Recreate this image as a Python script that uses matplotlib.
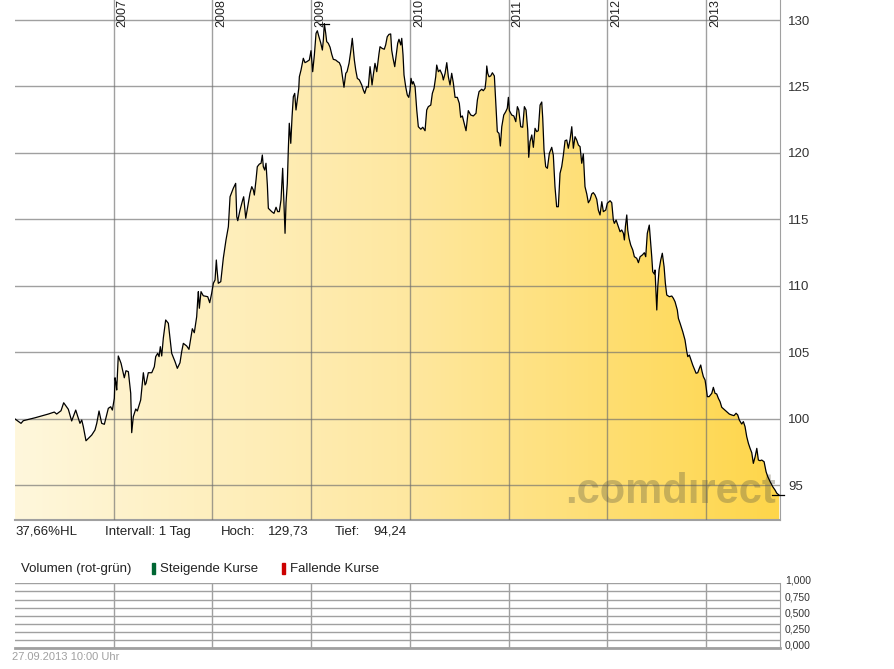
import matplotlib
matplotlib.use("Agg")
import matplotlib.pyplot as plt
import numpy as np
from matplotlib.patches import Polygon, Rectangle
from matplotlib.colors import LinearSegmentedColormap

plt.rcParams['font.family'] = ['Liberation Sans', 'DejaVu Sans']

# price series (decimal year, price)
t = [2006.000, 2006.061, 2006.084, 2006.203, 2006.337, 2006.398, 2006.422, 2006.466, 2006.493, 2006.540,
     2006.574, 2006.615, 2006.658, 2006.676, 2006.692, 2006.719, 2006.777, 2006.810, 2006.828, 2006.851,
     2006.878, 2006.905, 2006.945, 2006.969, 2006.986, 2007.006, 2007.013, 2007.023, 2007.030, 2007.046,
     2007.074, 2007.107, 2007.124, 2007.148, 2007.172, 2007.182, 2007.198, 2007.223, 2007.239, 2007.273,
     2007.300, 2007.317, 2007.327, 2007.350, 2007.385, 2007.411, 2007.425, 2007.445, 2007.459, 2007.472,
     2007.486, 2007.502, 2007.526, 2007.553, 2007.587, 2007.621, 2007.644, 2007.671, 2007.688, 2007.705,
     2007.739, 2007.762, 2007.783, 2007.796, 2007.816, 2007.840, 2007.851, 2007.857, 2007.867, 2007.884,
     2007.907, 2007.952, 2007.972, 2007.992, 2008.009, 2008.026, 2008.039, 2008.046, 2008.059, 2008.084,
     2008.110, 2008.137, 2008.161, 2008.178, 2008.211, 2008.235, 2008.246, 2008.256, 2008.279, 2008.306,
     2008.316, 2008.337, 2008.363, 2008.380, 2008.398, 2008.414, 2008.424, 2008.441, 2008.454, 2008.475,
     2008.492, 2008.505, 2008.515, 2008.529, 2008.542, 2008.556, 2008.566, 2008.600, 2008.623, 2008.644,
     2008.661, 2008.677, 2008.694, 2008.711, 2008.725, 2008.735, 2008.745, 2008.758, 2008.768, 2008.778,
     2008.793, 2008.806, 2008.819, 2008.833, 2008.846, 2008.859, 2008.874, 2008.880, 2008.897, 2008.920,
     2008.937, 2008.955, 2008.981, 2008.998, 2009.015, 2009.032, 2009.049, 2009.062, 2009.076, 2009.096,
     2009.113, 2009.123, 2009.133, 2009.147, 2009.157, 2009.173, 2009.191, 2009.208, 2009.224, 2009.248,
     2009.269, 2009.285, 2009.302, 2009.319, 2009.332, 2009.350, 2009.363, 2009.383, 2009.400, 2009.416,
     2009.437, 2009.451, 2009.467, 2009.488, 2009.512, 2009.528, 2009.542, 2009.562, 2009.578, 2009.596,
     2009.606, 2009.616, 2009.629, 2009.646, 2009.664, 2009.687, 2009.697, 2009.717, 2009.740, 2009.754,
     2009.770, 2009.788, 2009.805, 2009.815, 2009.829, 2009.846, 2009.859, 2009.876, 2009.889, 2009.907,
     2009.917, 2009.930, 2009.940, 2009.957, 2009.973, 2009.988, 2010.001, 2010.011, 2010.024, 2010.034,
     2010.052,
     2010.069, 2010.085, 2010.110, 2010.130, 2010.153, 2010.170, 2010.186, 2010.211, 2010.227, 2010.244,
     2010.261, 2010.271, 2010.288, 2010.305, 2010.328, 2010.338, 2010.356, 2010.373, 2010.389, 2010.406,
     2010.423, 2010.440, 2010.457, 2010.480, 2010.500, 2010.514, 2010.531, 2010.548, 2010.568, 2010.591,
     2010.616, 2010.642, 2010.669, 2010.683, 2010.700, 2010.727, 2010.743, 2010.761, 2010.771, 2010.778,
     2010.788, 2010.801, 2010.818, 2010.835, 2010.855, 2010.872, 2010.885, 2010.902, 2010.916, 2010.930,
     2010.950, 2010.970, 2010.986, 2010.997, 2011.007, 2011.031, 2011.052, 2011.072, 2011.088, 2011.102,
     2011.122, 2011.142, 2011.159, 2011.176, 2011.193, 2011.203, 2011.216, 2011.234, 2011.250, 2011.267,
     2011.284, 2011.300, 2011.318, 2011.335, 2011.345, 2011.358, 2011.375, 2011.392, 2011.412, 2011.436,
     2011.452, 2011.469, 2011.486, 2011.503, 2011.520, 2011.537, 2011.554, 2011.571, 2011.588, 2011.604,
     2011.621, 2011.639, 2011.655, 2011.672, 2011.689, 2011.706, 2011.723, 2011.740, 2011.756, 2011.773,
     2011.791, 2011.807, 2011.824, 2011.841, 2011.857, 2011.875, 2011.892, 2011.908, 2011.925, 2011.943,
     2011.959, 2011.983, 2011.999, 2012.027, 2012.044, 2012.060,
     2012.070, 2012.088, 2012.111, 2012.128, 2012.145, 2012.162, 2012.172, 2012.182, 2012.196, 2012.206,
     2012.219, 2012.236, 2012.257, 2012.273, 2012.297, 2012.314, 2012.331, 2012.354, 2012.374, 2012.388,
     2012.404, 2012.424, 2012.439, 2012.449, 2012.459, 2012.475, 2012.482, 2012.493, 2012.500, 2012.510,
     2012.523, 2012.540, 2012.556, 2012.574, 2012.587, 2012.601, 2012.627, 2012.652, 2012.668, 2012.685,
     2012.708, 2012.719, 2012.736, 2012.763, 2012.786, 2012.804, 2012.814, 2012.830, 2012.847, 2012.864,
     2012.881, 2012.898, 2012.915, 2012.931, 2012.945, 2012.959, 2012.972, 2012.989, 2012.999, 2013.012,
     2013.030, 2013.057, 2013.073, 2013.090, 2013.107, 2013.124, 2013.141, 2013.158, 2013.181, 2013.209,
     2013.235, 2013.259, 2013.282, 2013.303, 2013.320, 2013.336, 2013.360, 2013.377, 2013.394, 2013.411,
     2013.428, 2013.445, 2013.462, 2013.478, 2013.496, 2013.513, 2013.529, 2013.546, 2013.563, 2013.587,
     2013.607, 2013.624, 2013.648, 2013.675, 2013.698, 2013.715, 2013.731, 2013.740]

p = [99.98, 99.65, 99.85, 100.07, 100.35, 100.50, 100.35, 100.60, 101.20, 100.71,
     99.83, 100.65, 99.65, 99.90, 99.40, 98.34, 98.77, 99.15, 99.65, 100.58,
     99.65, 99.58, 100.78, 100.90, 100.65, 101.53, 103.08, 102.66, 102.16, 104.72,
     104.17, 103.08, 103.61, 103.54, 101.91, 98.95, 100.15, 100.73, 100.58, 101.41,
     103.46, 102.54, 102.66, 103.46, 103.46, 103.91, 104.67, 104.92, 104.67, 105.42,
     104.72, 106.05, 107.43, 107.18, 104.92, 104.29, 103.79, 104.21, 105.04, 105.67,
     105.47, 105.22, 106.17, 106.77, 106.47, 107.67, 108.98, 109.56, 108.31, 109.56,
     109.25, 109.18, 108.73, 109.44, 110.19, 110.44, 111.94, 111.24, 110.19, 110.31,
     112.09, 113.45, 114.45, 116.70, 117.34, 117.71, 115.20, 114.90, 115.70, 116.46,
     116.70, 115.08, 116.21, 116.96, 117.46, 117.21, 116.83, 117.96, 118.96, 119.16,
     119.22, 119.84, 118.96, 118.71, 119.22, 117.58, 115.83, 115.58, 115.45, 115.91,
     115.58, 115.58, 116.46, 118.84, 115.95, 113.95, 116.25, 117.71, 120.22, 122.23,
     120.72, 122.72, 124.23, 124.48, 123.23, 123.98, 124.86, 125.73, 126.24, 127.12,
     126.79, 126.86, 126.99, 127.69, 126.11, 127.37, 129.00, 129.19, 128.80, 128.29,
     127.74, 128.50, 129.73, 129.00, 128.37, 128.25, 127.95, 127.42, 127.04, 126.99,
     126.86, 126.79, 126.49, 125.61, 124.94, 125.99, 126.11, 126.74, 127.61, 128.62,
     126.99, 126.24, 125.61, 125.49, 125.11, 124.73, 124.48, 124.98, 124.94, 126.49,
     125.86, 125.11, 125.86, 126.74, 126.11, 127.49, 127.99, 127.87, 127.80, 128.12,
     128.74, 128.92, 128.95, 127.74, 127.12, 126.49, 127.24, 128.25, 128.55, 128.12,
     128.62, 127.37, 125.86, 124.98, 124.36, 124.18, 124.73, 125.61, 125.18, 125.36,
     124.98,
     123.23, 121.97, 121.78, 121.93, 121.67, 123.23, 123.48, 123.60, 124.48, 124.86,
     125.73, 126.61, 126.11, 126.24, 125.86, 125.49, 125.99, 126.79, 125.73, 125.11,
     125.99, 125.24, 124.18, 124.18, 123.73, 122.68, 122.78, 122.27, 121.67, 123.18,
     122.85, 122.78, 122.98, 123.98, 124.61, 124.79, 124.68, 124.86, 125.54, 126.54,
     125.99, 125.73, 125.79, 126.03, 125.79, 123.48, 121.60, 121.47, 120.52, 121.97,
     122.85, 123.10, 123.36, 124.18, 123.18, 122.85, 122.78, 122.35, 123.48, 123.23,
     121.97, 121.93, 123.48, 123.23, 121.72, 119.67, 120.84, 121.35, 120.42, 121.85,
     121.60, 121.67, 123.60, 123.83, 122.60, 120.22, 118.96, 118.84, 119.97, 120.42,
     119.84, 117.46, 115.95, 115.95, 118.46, 118.96, 119.84, 120.92, 120.97, 120.35,
     120.97, 121.97, 120.35, 121.22, 120.97, 120.59, 120.47, 119.22, 119.92, 117.46,
     116.91, 116.25, 116.46, 116.91, 117.01, 116.83, 116.51, 115.70, 115.33, 116.33,
     115.58, 115.70, 116.21, 116.40, 116.25, 114.95,
     114.70, 114.95, 114.45, 114.07, 114.20, 113.95, 113.45, 114.45, 115.33, 114.20,
     113.57, 113.07, 112.69, 112.19, 112.07, 111.74, 112.19, 112.32, 112.49, 112.19,
     113.95, 114.57, 113.20, 112.19, 111.06, 110.89, 111.19, 109.44, 108.18, 109.93,
     111.19, 111.94, 112.45, 111.44, 110.19, 109.31, 109.18, 109.23, 109.06, 108.80,
     108.18, 107.55, 107.18, 106.55, 105.92, 105.04, 104.67, 104.79, 104.42, 104.04,
     103.72, 103.42, 103.46, 103.79, 104.04, 103.54, 103.16, 102.91, 102.41, 101.66,
     101.66, 101.91, 102.36, 101.91, 101.86, 101.53, 101.28, 100.86, 100.71, 100.53,
     100.35, 100.28, 100.23, 100.41, 100.28, 99.90, 99.60, 99.78, 99.40, 98.65,
     98.15, 97.77, 97.44, 96.64, 97.14, 97.77, 96.89, 96.84, 96.89, 96.76,
     96.01, 95.64, 95.26, 94.88, 94.63, 94.40, 94.30, 94.24]

years = [2007, 2008, 2009, 2010, 2011, 2012, 2013]
price_ticks = [95, 100, 105, 110, 115, 120, 125, 130]
vol_grid = [0.0, 0.125, 0.25, 0.375, 0.5, 0.625, 0.75, 0.875, 1.0]
vol_ticks = [0.0, 0.25, 0.5, 0.75, 1.0]
vol_labels = ['0,000', '0,250', '0,500', '0,750', '1,000']

W, H = 895, 669
XMIN, XMAX = 2006.0, 2013.748
YMIN, YMAX = 92.378, 131.505
GRID = '#6e6e6e'
EDGE = '#a0a0a0'


def box(l, top, r, b):
    return [l / W, 1 - b / H, (r - l) / W, (b - top) / H]


fig = plt.figure(figsize=(8.95, 6.69), dpi=100)

# ---- price panel
ax = fig.add_axes(box(15, 0, 780, 520))
cmap = LinearSegmentedColormap.from_list('gold', ['#fff7dc', '#fee8a2', '#ffd64a'])
grad = np.linspace(0, 1, 256).reshape(1, -1)
im = ax.imshow(grad, extent=[XMIN, t[-1], YMIN, YMAX], aspect='auto', cmap=cmap,
               origin='lower', zorder=1, interpolation='bilinear')
poly = Polygon(np.column_stack([t + [t[-1], t[0]], p + [YMIN, YMIN]]), closed=True,
               facecolor='none', edgecolor='none')
ax.add_patch(poly)
im.set_clip_path(poly)

ax.text(2013.708, 93.66, '.comd\u0131rect', ha='right', va='baseline', fontsize=30,
        fontweight='bold', color=(0.39, 0.37, 0.27), alpha=0.35, zorder=3)

ax.plot(t, p, color='black', lw=0.9, zorder=4)
# high / low markers
ih = int(np.argmax(p))
ax.plot([t[ih] - 0.05, t[ih] + 0.05], [p[ih], p[ih]], color='black', lw=0.9, zorder=4)
ax.plot([t[-1] - 0.07, t[-1] + 0.045], [p[-1], p[-1]], color='black', lw=0.9, zorder=4,
        clip_on=False)

ax.set_xlim(XMIN, XMAX)
ax.set_ylim(YMIN, YMAX)
ax.set_xticks(years)
ax.set_yticks(price_ticks)
ax.set_axisbelow(False)
ax.grid(True, color=GRID, alpha=0.65, lw=1)
ax.yaxis.tick_right()
ax.tick_params(axis='x', length=0, labelbottom=False)
ax.tick_params(axis='y', length=0, pad=6, labelsize=9.5, labelcolor='#333333')
for s in ['left', 'top']:
    ax.spines[s].set_visible(False)
ax.spines['right'].set_color(EDGE)
ax.spines['bottom'].set_color(EDGE)
ax.spines['bottom'].set_linewidth(1.5)

for yr in years:
    ax.text(yr + 0.03, 129.47, str(yr), rotation=90, ha='left', va='bottom',
            fontsize=9, color='#222222', zorder=5)

# ---- info line
info = [(15, '37,66%HL'), (105, 'Intervall: 1 Tag'), (221, 'Hoch:'), (268, '129,73'),
        (335, 'Tief:'), (373, '94,24')]
for x, s in info:
    fig.text(x / W, 1 - 532 / H, s, fontsize=9.5, color='#222222', va='center')

fig.text(21 / W, 1 - 569 / H, 'Volumen (rot-grün)', fontsize=9.5, color='#222222', va='center')
fig.patches.append(Rectangle((152 / W, 1 - 574 / H), 3 / W, 11 / H, color='#006633',
                             transform=fig.transFigure, figure=fig))
fig.text(160 / W, 1 - 569 / H, 'Steigende Kurse', fontsize=9.5, color='#222222', va='center')
fig.patches.append(Rectangle((282 / W, 1 - 574 / H), 3 / W, 11 / H, color='#cc0000',
                             transform=fig.transFigure, figure=fig))
fig.text(290 / W, 1 - 569 / H, 'Fallende Kurse', fontsize=9.5, color='#222222', va='center')

# ---- volume panel (empty)
av = fig.add_axes(box(15, 583.3, 780, 648.3))
av.set_xlim(XMIN, XMAX)
av.set_ylim(0, 1)
av.set_xticks(years)
av.set_yticks(vol_grid)
av.grid(True, color=EDGE, lw=1)
av.tick_params(length=0, labelbottom=False, labelleft=False)
for v, s in zip(vol_ticks, vol_labels):
    av.annotate(s, xy=(1, v), xycoords=('axes fraction', 'data'), xytext=(3.6, 1.8),
                textcoords='offset points', va='center', ha='left', fontsize=7.5,
                color='#333333', annotation_clip=False)
for s in ['left', 'top']:
    av.spines[s].set_visible(False)
av.spines['right'].set_color(EDGE)
av.spines['bottom'].set_color(EDGE)
av.spines['bottom'].set_linewidth(2)

fig.text(12 / W, 1 - 657 / H, '27.09.2013 10:00 Uhr', fontsize=8, color='#a0a0a0', va='center')

fig.savefig('out.png', dpi=100)
